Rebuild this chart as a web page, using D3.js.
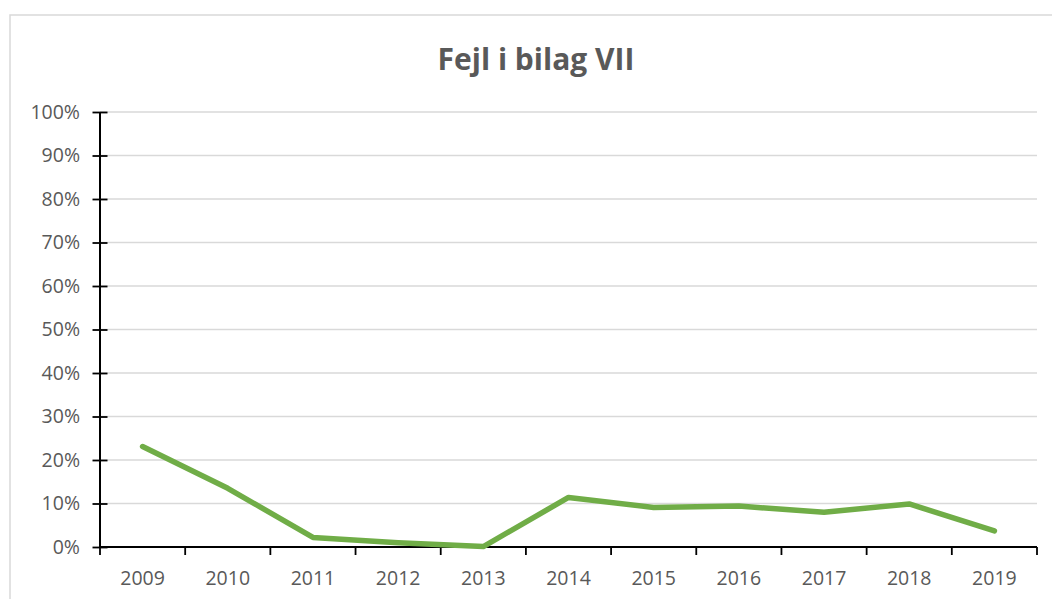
<!DOCTYPE html>
<html><head><meta charset="utf-8">
<script src="https://cdn.jsdelivr.net/npm/d3@7"></script>
<style>
body{margin:0;background:#fff;}
svg{display:block;font-family:"Open Sans","Liberation Sans",sans-serif;}
</style></head>
<body><svg id="c" width="1052" height="599"></svg>
<script>
const title = "Fejl i bilag VII";
const years = ["2009","2010","2011","2012","2013","2014","2015","2016","2017","2018","2019"];
const values = [0.231,0.135,0.022,0.010,0.001,0.114,0.091,0.094,0.080,0.099,0.037];
const yTicks = [0,0.1,0.2,0.3,0.4,0.5,0.6,0.7,0.8,0.9,1.0];

const svg = d3.select("#c");
const m = {left:100, right:1037, top:112, bottom:547};

// chart border
svg.append("rect").attr("x",10).attr("y",15).attr("width",1100).attr("height",700)
  .attr("fill","none").attr("stroke","#d9d9d9").attr("stroke-width",1.5);

const x = d3.scaleBand().domain(years).range([m.left,m.right]);
const y = d3.scaleLinear().domain([0,1]).range([m.bottom,m.top]);

// gridlines
svg.append("g").selectAll("line").data(yTicks.slice(1)).join("line")
  .attr("x1",m.left).attr("x2",m.right)
  .attr("y1",d=>y(d)).attr("y2",d=>y(d))
  .attr("stroke","#d9d9d9").attr("stroke-width",1.5);

// y axis
const ya = svg.append("g").attr("transform",`translate(${m.left},0)`)
  .call(d3.axisLeft(y).tickValues(yTicks).tickFormat(d3.format(".0%")).tickSize(7).tickPadding(13));
ya.select(".domain").remove();
ya.selectAll(".tick line").attr("x2",7.5).attr("x1",-7.5).attr("stroke","#000").attr("stroke-width",1.8);
ya.append("line").attr("y1",m.top).attr("y2",m.bottom).attr("stroke","#000").attr("stroke-width",2);
ya.selectAll("text").attr("fill","#595959").attr("font-size",19.5).attr("font-family","'Open Sans',sans-serif");

// x axis
const xa = svg.append("g").attr("transform",`translate(0,${m.bottom})`);
const bounds = years.map(d=>x(d)).concat([m.right]);
xa.selectAll("line.t").data(bounds).join("line").attr("class","t")
  .attr("x1",d=>d).attr("x2",d=>d).attr("y1",0).attr("y2",8)
  .attr("stroke","#000").attr("stroke-width",1.8);
xa.append("line").attr("x1",m.left).attr("x2",m.right).attr("stroke","#000").attr("stroke-width",2);
xa.selectAll("text").data(years).join("text")
  .attr("x",d=>x(d)+x.bandwidth()/2).attr("y",38)
  .attr("text-anchor","middle").attr("fill","#595959").attr("font-size",19.5).text(d=>d);

// line
const line = d3.line().x((d,i)=>x(years[i])+x.bandwidth()/2).y(d=>y(d));
svg.append("path").datum(values).attr("d",line)
  .attr("fill","none").attr("stroke","#70ad47").attr("stroke-width",5.5)
  .attr("stroke-linejoin","round").attr("stroke-linecap","round");

// title
svg.append("text").attr("x",536).attr("y",70).attr("text-anchor","middle")
  .attr("font-weight","bold").attr("font-size",30).attr("fill","#595959").text(title);
</script></body></html>
